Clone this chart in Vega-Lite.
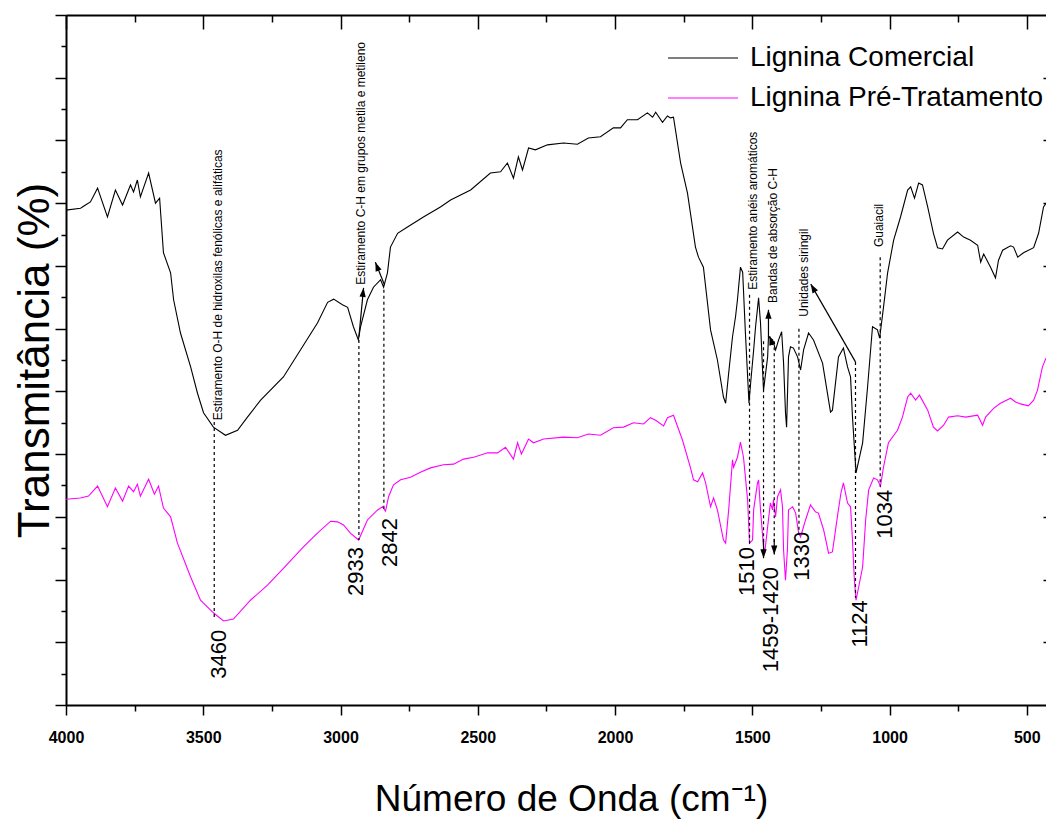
{
  "$schema": "https://vega.github.io/schema/vega-lite/v6.json",
  "width": 980,
  "height": 690,
  "autosize": {"type": "none"},
  "padding": {"left": 66, "top": 15, "right": 0, "bottom": 114},
  "background": "white",
  "config": {
    "view": {"stroke": null},
    "font": "Liberation Sans",
    "axis": {
      "grid": false,
      "domainColor": "black",
      "domainWidth": 2,
      "tickColor": "black",
      "tickWidth": 1.5,
      "labelColor": "black",
      "titleColor": "black"
    }
  },
  "datasets": {
    "espectros": [
      {"s": "Lignina Comercial", "wn": 4000, "t": 78.9},
      {"s": "Lignina Comercial", "wn": 3947, "t": 79.2},
      {"s": "Lignina Comercial", "wn": 3929, "t": 79.7},
      {"s": "Lignina Comercial", "wn": 3911, "t": 80.2},
      {"s": "Lignina Comercial", "wn": 3885, "t": 82.4},
      {"s": "Lignina Comercial", "wn": 3849, "t": 77.8},
      {"s": "Lignina Comercial", "wn": 3820, "t": 82.1},
      {"s": "Lignina Comercial", "wn": 3794, "t": 79.7},
      {"s": "Lignina Comercial", "wn": 3765, "t": 82.9},
      {"s": "Lignina Comercial", "wn": 3754, "t": 81.8},
      {"s": "Lignina Comercial", "wn": 3740, "t": 83.7},
      {"s": "Lignina Comercial", "wn": 3729, "t": 81.0},
      {"s": "Lignina Comercial", "wn": 3699, "t": 84.8},
      {"s": "Lignina Comercial", "wn": 3674, "t": 80.0},
      {"s": "Lignina Comercial", "wn": 3659, "t": 80.8},
      {"s": "Lignina Comercial", "wn": 3645, "t": 72.1},
      {"s": "Lignina Comercial", "wn": 3619, "t": 68.9},
      {"s": "Lignina Comercial", "wn": 3608, "t": 64.6},
      {"s": "Lignina Comercial", "wn": 3583, "t": 59.3},
      {"s": "Lignina Comercial", "wn": 3546, "t": 53.9},
      {"s": "Lignina Comercial", "wn": 3521, "t": 49.7},
      {"s": "Lignina Comercial", "wn": 3499, "t": 46.6},
      {"s": "Lignina Comercial", "wn": 3463, "t": 44.3},
      {"s": "Lignina Comercial", "wn": 3419, "t": 43.0},
      {"s": "Lignina Comercial", "wn": 3375, "t": 43.8},
      {"s": "Lignina Comercial", "wn": 3339, "t": 45.9},
      {"s": "Lignina Comercial", "wn": 3291, "t": 48.6},
      {"s": "Lignina Comercial", "wn": 3208, "t": 52.3},
      {"s": "Lignina Comercial", "wn": 3146, "t": 56.6},
      {"s": "Lignina Comercial", "wn": 3084, "t": 60.9},
      {"s": "Lignina Comercial", "wn": 3047, "t": 64.2},
      {"s": "Lignina Comercial", "wn": 3025, "t": 64.7},
      {"s": "Lignina Comercial", "wn": 2993, "t": 63.8},
      {"s": "Lignina Comercial", "wn": 2974, "t": 63.4},
      {"s": "Lignina Comercial", "wn": 2953, "t": 60.3},
      {"s": "Lignina Comercial", "wn": 2935, "t": 58.2},
      {"s": "Lignina Comercial", "wn": 2927, "t": 60.3},
      {"s": "Lignina Comercial", "wn": 2902, "t": 64.6},
      {"s": "Lignina Comercial", "wn": 2880, "t": 66.6},
      {"s": "Lignina Comercial", "wn": 2854, "t": 67.8},
      {"s": "Lignina Comercial", "wn": 2843, "t": 66.6},
      {"s": "Lignina Comercial", "wn": 2829, "t": 68.9},
      {"s": "Lignina Comercial", "wn": 2818, "t": 73.0},
      {"s": "Lignina Comercial", "wn": 2792, "t": 75.2},
      {"s": "Lignina Comercial", "wn": 2756, "t": 76.2},
      {"s": "Lignina Comercial", "wn": 2698, "t": 77.8},
      {"s": "Lignina Comercial", "wn": 2636, "t": 79.4},
      {"s": "Lignina Comercial", "wn": 2599, "t": 80.5},
      {"s": "Lignina Comercial", "wn": 2526, "t": 82.1},
      {"s": "Lignina Comercial", "wn": 2454, "t": 84.8},
      {"s": "Lignina Comercial", "wn": 2417, "t": 85.0},
      {"s": "Lignina Comercial", "wn": 2392, "t": 86.4},
      {"s": "Lignina Comercial", "wn": 2370, "t": 84.0},
      {"s": "Lignina Comercial", "wn": 2352, "t": 87.4},
      {"s": "Lignina Comercial", "wn": 2337, "t": 85.3},
      {"s": "Lignina Comercial", "wn": 2315, "t": 88.8},
      {"s": "Lignina Comercial", "wn": 2290, "t": 88.5},
      {"s": "Lignina Comercial", "wn": 2246, "t": 89.3},
      {"s": "Lignina Comercial", "wn": 2188, "t": 89.6},
      {"s": "Lignina Comercial", "wn": 2137, "t": 89.4},
      {"s": "Lignina Comercial", "wn": 2097, "t": 90.4},
      {"s": "Lignina Comercial", "wn": 2053, "t": 90.6},
      {"s": "Lignina Comercial", "wn": 2006, "t": 92.0},
      {"s": "Lignina Comercial", "wn": 1980, "t": 92.0},
      {"s": "Lignina Comercial", "wn": 1955, "t": 93.3},
      {"s": "Lignina Comercial", "wn": 1918, "t": 93.3},
      {"s": "Lignina Comercial", "wn": 1882, "t": 94.4},
      {"s": "Lignina Comercial", "wn": 1863, "t": 93.7},
      {"s": "Lignina Comercial", "wn": 1852, "t": 94.5},
      {"s": "Lignina Comercial", "wn": 1827, "t": 92.9},
      {"s": "Lignina Comercial", "wn": 1809, "t": 93.9},
      {"s": "Lignina Comercial", "wn": 1798, "t": 93.6},
      {"s": "Lignina Comercial", "wn": 1787, "t": 93.7},
      {"s": "Lignina Comercial", "wn": 1761, "t": 86.4},
      {"s": "Lignina Comercial", "wn": 1736, "t": 81.6},
      {"s": "Lignina Comercial", "wn": 1707, "t": 73.0},
      {"s": "Lignina Comercial", "wn": 1696, "t": 71.4},
      {"s": "Lignina Comercial", "wn": 1678, "t": 69.8},
      {"s": "Lignina Comercial", "wn": 1652, "t": 59.8},
      {"s": "Lignina Comercial", "wn": 1627, "t": 55.0},
      {"s": "Lignina Comercial", "wn": 1605, "t": 49.1},
      {"s": "Lignina Comercial", "wn": 1597, "t": 48.1},
      {"s": "Lignina Comercial", "wn": 1586, "t": 52.9},
      {"s": "Lignina Comercial", "wn": 1572, "t": 58.7},
      {"s": "Lignina Comercial", "wn": 1561, "t": 61.9},
      {"s": "Lignina Comercial", "wn": 1554, "t": 64.6},
      {"s": "Lignina Comercial", "wn": 1543, "t": 69.8},
      {"s": "Lignina Comercial", "wn": 1535, "t": 69.0},
      {"s": "Lignina Comercial", "wn": 1525, "t": 59.3},
      {"s": "Lignina Comercial", "wn": 1512, "t": 48.1},
      {"s": "Lignina Comercial", "wn": 1506, "t": 51.3},
      {"s": "Lignina Comercial", "wn": 1495, "t": 56.6},
      {"s": "Lignina Comercial", "wn": 1488, "t": 60.3},
      {"s": "Lignina Comercial", "wn": 1477, "t": 64.9},
      {"s": "Lignina Comercial", "wn": 1470, "t": 60.9},
      {"s": "Lignina Comercial", "wn": 1463, "t": 53.9},
      {"s": "Lignina Comercial", "wn": 1459, "t": 50.2},
      {"s": "Lignina Comercial", "wn": 1444, "t": 55.5},
      {"s": "Lignina Comercial", "wn": 1441, "t": 58.7},
      {"s": "Lignina Comercial", "wn": 1426, "t": 58.2},
      {"s": "Lignina Comercial", "wn": 1415, "t": 56.6},
      {"s": "Lignina Comercial", "wn": 1404, "t": 58.2},
      {"s": "Lignina Comercial", "wn": 1393, "t": 59.5},
      {"s": "Lignina Comercial", "wn": 1386, "t": 54.5},
      {"s": "Lignina Comercial", "wn": 1379, "t": 46.6},
      {"s": "Lignina Comercial", "wn": 1375, "t": 44.3},
      {"s": "Lignina Comercial", "wn": 1368, "t": 55.5},
      {"s": "Lignina Comercial", "wn": 1361, "t": 57.1},
      {"s": "Lignina Comercial", "wn": 1350, "t": 56.9},
      {"s": "Lignina Comercial", "wn": 1335, "t": 55.5},
      {"s": "Lignina Comercial", "wn": 1324, "t": 53.4},
      {"s": "Lignina Comercial", "wn": 1313, "t": 56.6},
      {"s": "Lignina Comercial", "wn": 1295, "t": 59.3},
      {"s": "Lignina Comercial", "wn": 1277, "t": 58.2},
      {"s": "Lignina Comercial", "wn": 1244, "t": 54.5},
      {"s": "Lignina Comercial", "wn": 1215, "t": 46.7},
      {"s": "Lignina Comercial", "wn": 1208, "t": 47.0},
      {"s": "Lignina Comercial", "wn": 1186, "t": 55.5},
      {"s": "Lignina Comercial", "wn": 1168, "t": 56.9},
      {"s": "Lignina Comercial", "wn": 1153, "t": 53.9},
      {"s": "Lignina Comercial", "wn": 1142, "t": 52.3},
      {"s": "Lignina Comercial", "wn": 1135, "t": 45.9},
      {"s": "Lignina Comercial", "wn": 1122, "t": 37.0},
      {"s": "Lignina Comercial", "wn": 1098, "t": 41.8},
      {"s": "Lignina Comercial", "wn": 1080, "t": 50.7},
      {"s": "Lignina Comercial", "wn": 1062, "t": 60.3},
      {"s": "Lignina Comercial", "wn": 1044, "t": 59.8},
      {"s": "Lignina Comercial", "wn": 1036, "t": 58.5},
      {"s": "Lignina Comercial", "wn": 1022, "t": 63.4},
      {"s": "Lignina Comercial", "wn": 1007, "t": 68.9},
      {"s": "Lignina Comercial", "wn": 985, "t": 74.1},
      {"s": "Lignina Comercial", "wn": 960, "t": 77.8},
      {"s": "Lignina Comercial", "wn": 934, "t": 82.1},
      {"s": "Lignina Comercial", "wn": 923, "t": 82.6},
      {"s": "Lignina Comercial", "wn": 909, "t": 80.8},
      {"s": "Lignina Comercial", "wn": 894, "t": 83.2},
      {"s": "Lignina Comercial", "wn": 880, "t": 82.9},
      {"s": "Lignina Comercial", "wn": 861, "t": 79.4},
      {"s": "Lignina Comercial", "wn": 840, "t": 75.2},
      {"s": "Lignina Comercial", "wn": 825, "t": 72.9},
      {"s": "Lignina Comercial", "wn": 807, "t": 72.7},
      {"s": "Lignina Comercial", "wn": 789, "t": 74.1},
      {"s": "Lignina Comercial", "wn": 752, "t": 75.4},
      {"s": "Lignina Comercial", "wn": 730, "t": 74.6},
      {"s": "Lignina Comercial", "wn": 705, "t": 74.1},
      {"s": "Lignina Comercial", "wn": 679, "t": 73.3},
      {"s": "Lignina Comercial", "wn": 668, "t": 70.6},
      {"s": "Lignina Comercial", "wn": 657, "t": 71.9},
      {"s": "Lignina Comercial", "wn": 632, "t": 69.8},
      {"s": "Lignina Comercial", "wn": 614, "t": 68.1},
      {"s": "Lignina Comercial", "wn": 603, "t": 70.9},
      {"s": "Lignina Comercial", "wn": 588, "t": 72.5},
      {"s": "Lignina Comercial", "wn": 559, "t": 73.2},
      {"s": "Lignina Comercial", "wn": 548, "t": 73.0},
      {"s": "Lignina Comercial", "wn": 533, "t": 71.4},
      {"s": "Lignina Comercial", "wn": 512, "t": 72.1},
      {"s": "Lignina Comercial", "wn": 475, "t": 72.9},
      {"s": "Lignina Comercial", "wn": 457, "t": 75.2},
      {"s": "Lignina Comercial", "wn": 439, "t": 79.4},
      {"s": "Lignina Comercial", "wn": 430, "t": 80.0},
      {"s": "Lignina Pré-Tratamento", "wn": 4000, "t": 32.8},
      {"s": "Lignina Pré-Tratamento", "wn": 3947, "t": 33.0},
      {"s": "Lignina Pré-Tratamento", "wn": 3918, "t": 33.3},
      {"s": "Lignina Pré-Tratamento", "wn": 3885, "t": 34.9},
      {"s": "Lignina Pré-Tratamento", "wn": 3849, "t": 31.6},
      {"s": "Lignina Pré-Tratamento", "wn": 3820, "t": 34.6},
      {"s": "Lignina Pré-Tratamento", "wn": 3794, "t": 32.5},
      {"s": "Lignina Pré-Tratamento", "wn": 3772, "t": 34.9},
      {"s": "Lignina Pré-Tratamento", "wn": 3754, "t": 34.0},
      {"s": "Lignina Pré-Tratamento", "wn": 3740, "t": 35.2},
      {"s": "Lignina Pré-Tratamento", "wn": 3729, "t": 33.3},
      {"s": "Lignina Pré-Tratamento", "wn": 3699, "t": 36.0},
      {"s": "Lignina Pré-Tratamento", "wn": 3678, "t": 33.6},
      {"s": "Lignina Pré-Tratamento", "wn": 3663, "t": 34.9},
      {"s": "Lignina Pré-Tratamento", "wn": 3645, "t": 31.4},
      {"s": "Lignina Pré-Tratamento", "wn": 3619, "t": 30.0},
      {"s": "Lignina Pré-Tratamento", "wn": 3594, "t": 25.8},
      {"s": "Lignina Pré-Tratamento", "wn": 3546, "t": 20.4},
      {"s": "Lignina Pré-Tratamento", "wn": 3510, "t": 16.7},
      {"s": "Lignina Pré-Tratamento", "wn": 3463, "t": 14.7},
      {"s": "Lignina Pré-Tratamento", "wn": 3426, "t": 13.4},
      {"s": "Lignina Pré-Tratamento", "wn": 3390, "t": 13.7},
      {"s": "Lignina Pré-Tratamento", "wn": 3328, "t": 16.7},
      {"s": "Lignina Pré-Tratamento", "wn": 3266, "t": 19.1},
      {"s": "Lignina Pré-Tratamento", "wn": 3208, "t": 21.8},
      {"s": "Lignina Pré-Tratamento", "wn": 3135, "t": 25.2},
      {"s": "Lignina Pré-Tratamento", "wn": 3084, "t": 27.4},
      {"s": "Lignina Pré-Tratamento", "wn": 3036, "t": 29.3},
      {"s": "Lignina Pré-Tratamento", "wn": 3011, "t": 29.2},
      {"s": "Lignina Pré-Tratamento", "wn": 2989, "t": 28.7},
      {"s": "Lignina Pré-Tratamento", "wn": 2964, "t": 27.4},
      {"s": "Lignina Pré-Tratamento", "wn": 2934, "t": 26.3},
      {"s": "Lignina Pré-Tratamento", "wn": 2902, "t": 29.5},
      {"s": "Lignina Pré-Tratamento", "wn": 2865, "t": 31.1},
      {"s": "Lignina Pré-Tratamento", "wn": 2847, "t": 31.6},
      {"s": "Lignina Pré-Tratamento", "wn": 2836, "t": 30.9},
      {"s": "Lignina Pré-Tratamento", "wn": 2825, "t": 33.2},
      {"s": "Lignina Pré-Tratamento", "wn": 2807, "t": 35.1},
      {"s": "Lignina Pré-Tratamento", "wn": 2781, "t": 35.9},
      {"s": "Lignina Pré-Tratamento", "wn": 2745, "t": 36.3},
      {"s": "Lignina Pré-Tratamento", "wn": 2709, "t": 37.1},
      {"s": "Lignina Pré-Tratamento", "wn": 2672, "t": 37.8},
      {"s": "Lignina Pré-Tratamento", "wn": 2625, "t": 38.3},
      {"s": "Lignina Pré-Tratamento", "wn": 2588, "t": 38.4},
      {"s": "Lignina Pré-Tratamento", "wn": 2552, "t": 39.2},
      {"s": "Lignina Pré-Tratamento", "wn": 2515, "t": 39.5},
      {"s": "Lignina Pré-Tratamento", "wn": 2464, "t": 40.2},
      {"s": "Lignina Pré-Tratamento", "wn": 2428, "t": 40.2},
      {"s": "Lignina Pré-Tratamento", "wn": 2399, "t": 41.1},
      {"s": "Lignina Pré-Tratamento", "wn": 2370, "t": 39.2},
      {"s": "Lignina Pré-Tratamento", "wn": 2355, "t": 41.8},
      {"s": "Lignina Pré-Tratamento", "wn": 2341, "t": 40.0},
      {"s": "Lignina Pré-Tratamento", "wn": 2315, "t": 42.4},
      {"s": "Lignina Pré-Tratamento", "wn": 2297, "t": 41.8},
      {"s": "Lignina Pré-Tratamento", "wn": 2260, "t": 42.4},
      {"s": "Lignina Pré-Tratamento", "wn": 2188, "t": 42.7},
      {"s": "Lignina Pré-Tratamento", "wn": 2137, "t": 42.6},
      {"s": "Lignina Pré-Tratamento", "wn": 2097, "t": 43.2},
      {"s": "Lignina Pré-Tratamento", "wn": 2053, "t": 43.0},
      {"s": "Lignina Pré-Tratamento", "wn": 2006, "t": 44.2},
      {"s": "Lignina Pré-Tratamento", "wn": 1969, "t": 44.3},
      {"s": "Lignina Pré-Tratamento", "wn": 1933, "t": 45.0},
      {"s": "Lignina Pré-Tratamento", "wn": 1896, "t": 44.8},
      {"s": "Lignina Pré-Tratamento", "wn": 1871, "t": 45.8},
      {"s": "Lignina Pré-Tratamento", "wn": 1852, "t": 45.4},
      {"s": "Lignina Pré-Tratamento", "wn": 1823, "t": 44.5},
      {"s": "Lignina Pré-Tratamento", "wn": 1809, "t": 45.8},
      {"s": "Lignina Pré-Tratamento", "wn": 1787, "t": 46.2},
      {"s": "Lignina Pré-Tratamento", "wn": 1754, "t": 42.2},
      {"s": "Lignina Pré-Tratamento", "wn": 1725, "t": 37.8},
      {"s": "Lignina Pré-Tratamento", "wn": 1714, "t": 35.9},
      {"s": "Lignina Pré-Tratamento", "wn": 1699, "t": 35.6},
      {"s": "Lignina Pré-Tratamento", "wn": 1681, "t": 37.0},
      {"s": "Lignina Pré-Tratamento", "wn": 1670, "t": 35.4},
      {"s": "Lignina Pré-Tratamento", "wn": 1652, "t": 31.6},
      {"s": "Lignina Pré-Tratamento", "wn": 1641, "t": 33.0},
      {"s": "Lignina Pré-Tratamento", "wn": 1627, "t": 31.1},
      {"s": "Lignina Pré-Tratamento", "wn": 1605, "t": 26.3},
      {"s": "Lignina Pré-Tratamento", "wn": 1597, "t": 25.8},
      {"s": "Lignina Pré-Tratamento", "wn": 1586, "t": 31.1},
      {"s": "Lignina Pré-Tratamento", "wn": 1572, "t": 39.1},
      {"s": "Lignina Pré-Tratamento", "wn": 1568, "t": 37.9},
      {"s": "Lignina Pré-Tratamento", "wn": 1554, "t": 39.5},
      {"s": "Lignina Pré-Tratamento", "wn": 1543, "t": 41.9},
      {"s": "Lignina Pré-Tratamento", "wn": 1532, "t": 39.5},
      {"s": "Lignina Pré-Tratamento", "wn": 1517, "t": 32.7},
      {"s": "Lignina Pré-Tratamento", "wn": 1510, "t": 25.8},
      {"s": "Lignina Pré-Tratamento", "wn": 1499, "t": 26.3},
      {"s": "Lignina Pré-Tratamento", "wn": 1495, "t": 31.1},
      {"s": "Lignina Pré-Tratamento", "wn": 1481, "t": 35.4},
      {"s": "Lignina Pré-Tratamento", "wn": 1477, "t": 35.9},
      {"s": "Lignina Pré-Tratamento", "wn": 1470, "t": 31.1},
      {"s": "Lignina Pré-Tratamento", "wn": 1459, "t": 25.2},
      {"s": "Lignina Pré-Tratamento", "wn": 1455, "t": 24.2},
      {"s": "Lignina Pré-Tratamento", "wn": 1444, "t": 28.4},
      {"s": "Lignina Pré-Tratamento", "wn": 1434, "t": 32.2},
      {"s": "Lignina Pré-Tratamento", "wn": 1426, "t": 31.1},
      {"s": "Lignina Pré-Tratamento", "wn": 1423, "t": 32.7},
      {"s": "Lignina Pré-Tratamento", "wn": 1415, "t": 30.0},
      {"s": "Lignina Pré-Tratamento", "wn": 1408, "t": 33.2},
      {"s": "Lignina Pré-Tratamento", "wn": 1397, "t": 34.3},
      {"s": "Lignina Pré-Tratamento", "wn": 1390, "t": 31.6},
      {"s": "Lignina Pré-Tratamento", "wn": 1386, "t": 24.7},
      {"s": "Lignina Pré-Tratamento", "wn": 1379, "t": 19.9},
      {"s": "Lignina Pré-Tratamento", "wn": 1372, "t": 24.7},
      {"s": "Lignina Pré-Tratamento", "wn": 1368, "t": 31.1},
      {"s": "Lignina Pré-Tratamento", "wn": 1353, "t": 31.6},
      {"s": "Lignina Pré-Tratamento", "wn": 1342, "t": 30.6},
      {"s": "Lignina Pré-Tratamento", "wn": 1331, "t": 27.4},
      {"s": "Lignina Pré-Tratamento", "wn": 1324, "t": 26.8},
      {"s": "Lignina Pré-Tratamento", "wn": 1306, "t": 29.5},
      {"s": "Lignina Pré-Tratamento", "wn": 1288, "t": 31.9},
      {"s": "Lignina Pré-Tratamento", "wn": 1270, "t": 30.8},
      {"s": "Lignina Pré-Tratamento", "wn": 1259, "t": 30.6},
      {"s": "Lignina Pré-Tratamento", "wn": 1240, "t": 27.9},
      {"s": "Lignina Pré-Tratamento", "wn": 1222, "t": 24.2},
      {"s": "Lignina Pré-Tratamento", "wn": 1208, "t": 24.4},
      {"s": "Lignina Pré-Tratamento", "wn": 1188, "t": 30.6},
      {"s": "Lignina Pré-Tratamento", "wn": 1177, "t": 33.8},
      {"s": "Lignina Pré-Tratamento", "wn": 1168, "t": 35.4},
      {"s": "Lignina Pré-Tratamento", "wn": 1153, "t": 32.2},
      {"s": "Lignina Pré-Tratamento", "wn": 1142, "t": 31.6},
      {"s": "Lignina Pré-Tratamento", "wn": 1135, "t": 26.3},
      {"s": "Lignina Pré-Tratamento", "wn": 1128, "t": 19.9},
      {"s": "Lignina Pré-Tratamento", "wn": 1122, "t": 16.7},
      {"s": "Lignina Pré-Tratamento", "wn": 1098, "t": 22.0},
      {"s": "Lignina Pré-Tratamento", "wn": 1087, "t": 29.5},
      {"s": "Lignina Pré-Tratamento", "wn": 1076, "t": 34.3},
      {"s": "Lignina Pré-Tratamento", "wn": 1058, "t": 36.2},
      {"s": "Lignina Pré-Tratamento", "wn": 1044, "t": 35.9},
      {"s": "Lignina Pré-Tratamento", "wn": 1033, "t": 34.9},
      {"s": "Lignina Pré-Tratamento", "wn": 1022, "t": 37.9},
      {"s": "Lignina Pré-Tratamento", "wn": 1004, "t": 41.8},
      {"s": "Lignina Pré-Tratamento", "wn": 971, "t": 43.8},
      {"s": "Lignina Pré-Tratamento", "wn": 953, "t": 45.9},
      {"s": "Lignina Pré-Tratamento", "wn": 934, "t": 49.1},
      {"s": "Lignina Pré-Tratamento", "wn": 923, "t": 49.7},
      {"s": "Lignina Pré-Tratamento", "wn": 905, "t": 48.6},
      {"s": "Lignina Pré-Tratamento", "wn": 891, "t": 49.4},
      {"s": "Lignina Pré-Tratamento", "wn": 861, "t": 47.0},
      {"s": "Lignina Pré-Tratamento", "wn": 840, "t": 44.3},
      {"s": "Lignina Pré-Tratamento", "wn": 825, "t": 43.7},
      {"s": "Lignina Pré-Tratamento", "wn": 803, "t": 44.6},
      {"s": "Lignina Pré-Tratamento", "wn": 785, "t": 45.9},
      {"s": "Lignina Pré-Tratamento", "wn": 752, "t": 46.1},
      {"s": "Lignina Pré-Tratamento", "wn": 723, "t": 45.9},
      {"s": "Lignina Pré-Tratamento", "wn": 679, "t": 46.2},
      {"s": "Lignina Pré-Tratamento", "wn": 661, "t": 44.6},
      {"s": "Lignina Pré-Tratamento", "wn": 650, "t": 45.9},
      {"s": "Lignina Pré-Tratamento", "wn": 621, "t": 47.3},
      {"s": "Lignina Pré-Tratamento", "wn": 596, "t": 48.1},
      {"s": "Lignina Pré-Tratamento", "wn": 559, "t": 48.9},
      {"s": "Lignina Pré-Tratamento", "wn": 541, "t": 48.3},
      {"s": "Lignina Pré-Tratamento", "wn": 523, "t": 48.0},
      {"s": "Lignina Pré-Tratamento", "wn": 494, "t": 47.7},
      {"s": "Lignina Pré-Tratamento", "wn": 475, "t": 48.6},
      {"s": "Lignina Pré-Tratamento", "wn": 461, "t": 50.2},
      {"s": "Lignina Pré-Tratamento", "wn": 443, "t": 53.9},
      {"s": "Lignina Pré-Tratamento", "wn": 430, "t": 55.3}
    ],
    "marcadores": [
      {"wn": 3460, "topo": 45.1, "base": 14.0},
      {"wn": 2933, "topo": 58.2, "base": 26.3},
      {"wn": 2842, "topo": 66.2, "base": 31.1},
      {"wn": 1510, "topo": 65.4, "base": 25.5},
      {"wn": 1459, "topo": 58.0, "base": 25.5},
      {"wn": 1420, "topo": 58.0, "base": 26.0},
      {"wn": 1330, "topo": 60.0, "base": 27.1},
      {"wn": 1124, "topo": 54.7, "base": 17.1},
      {"wn": 1034, "topo": 71.4, "base": 34.8}
    ],
    "setas": [
      {"wn": 2933, "t": 58.7, "wn2": 2916, "t2": 66.5, "dir": 6},
      {"wn": 2840, "t": 67.0, "wn2": 2873, "t2": 70.6, "dir": 339},
      {"wn": 1124, "t": 54.7, "wn2": 1287, "t2": 67.1, "dir": 330},
      {"wn": 1441, "t": 58.7, "wn2": 1441, "t2": 63.0, "dir": 0},
      {"wn": 1426, "t": 57.4, "wn2": 1437, "t2": 58.8, "dir": 342},
      {"wn": 1459, "t": 26.5, "wn2": 1459, "t2": 23.4, "dir": 180},
      {"wn": 1420, "t": 26.5, "wn2": 1420, "t2": 24.0, "dir": 180}
    ],
    "numeros": [
      {"wn": 3441, "t": 12.0, "texto": "3460"},
      {"wn": 2942, "t": 25.2, "texto": "2933"},
      {"wn": 2818, "t": 29.8, "texto": "2842"},
      {"wn": 1521, "t": 25.2, "texto": "1510"},
      {"wn": 1430, "t": 22.0, "texto": "1459-1420"},
      {"wn": 1320, "t": 27.6, "texto": "1330"},
      {"wn": 1106, "t": 16.7, "texto": "1124"},
      {"wn": 1015, "t": 34.3, "texto": "1034"}
    ],
    "notas": [
      {"wn": 3448, "t": 45.4, "texto": "Estiramento O-H de hidroxilas fenólicas e alifáticas"},
      {"wn": 2927, "t": 67.0, "texto": "Estiramento C-H em grupos metila e metileno"},
      {"wn": 1499, "t": 66.2, "texto": "Estiramento anéis aromáticos"},
      {"wn": 1426, "t": 64.1, "texto": "Bandas de absorção C-H"},
      {"wn": 1313, "t": 61.9, "texto": "Unidades siringil"},
      {"wn": 1040, "t": 73.0, "texto": "Guaiacil"}
    ]
  },
  "resolve": {"axis": {"x": "independent", "y": "independent"}},
  "layer": [
    {
      "data": {"name": "espectros"},
      "mark": {"type": "line", "strokeWidth": 1.1},
      "encoding": {
        "x": {
          "field": "wn",
          "type": "quantitative",
          "scale": {"domain": [4000, 430], "nice": false, "zero": false},
          "axis": {
            "orient": "bottom",
            "values": [4000, 3750, 3500, 3250, 3000, 2750, 2500, 2250, 2000, 1750, 1500, 1250, 1000, 750, 500],
            "format": "d",
            "labelExpr": "datum.value % 500 === 0 ? datum.label : ''",
            "tickSize": {"condition": {"test": "datum.value % 500 === 0", "value": 10}, "value": 6},
            "labelFontSize": 16,
            "labelFontWeight": "bold",
            "labelPadding": 14,
            "labelFlush": false,
            "labelOverlap": false,
            "title": "Número de Onda (cm⁻¹)",
            "titleFontSize": 37,
            "titleFontWeight": "normal",
            "titleX": 505,
            "titleY": 105,
            "titleAlign": "center",
            "titleBaseline": "alphabetic"
          }
        },
        "y": {
          "field": "t",
          "type": "quantitative",
          "scale": {"domain": [0, 110], "nice": false, "zero": false},
          "axis": {
            "orient": "left",
            "values": [0, 5, 10, 15, 20, 25, 30, 35, 40, 45, 50, 55, 60, 65, 70, 75, 80, 85, 90, 95, 100, 105, 110],
            "labels": false,
            "tickSize": {"condition": {"test": "datum.value % 10 === 0", "value": 11}, "value": 5},
            "title": "Transmitância (%)",
            "titleFontSize": 44,
            "titleFontWeight": "normal",
            "titleAngle": 270,
            "titleX": -18,
            "titleY": 345,
            "titleAlign": "center",
            "titleBaseline": "alphabetic"
          }
        },
        "color": {
          "field": "s",
          "type": "nominal",
          "scale": {"domain": ["Lignina Comercial", "Lignina Pré-Tratamento"], "range": ["#000000", "#ff00ff"]},
          "legend": {
            "orient": "none",
            "legendX": 622,
            "legendY": 28,
            "title": null,
            "padding": 0,
            "symbolType": "M-2.5,0H2.5",
            "symbolSize": 784,
            "symbolStrokeWidth": 1.1,
            "labelFontSize": 28,
            "labelFont": "Liberation Sans",
            "labelColor": "black",
            "labelOffset": 32,
            "labelLimit": 500,
            "rowPadding": 11
          }
        }
      }
    },
    {
      "data": {"name": "marcadores"},
      "mark": {"type": "rule", "strokeDash": [3, 3], "strokeWidth": 1.2, "color": "black"},
      "encoding": {
        "x": {
          "field": "wn",
          "type": "quantitative",
          "axis": {
            "orient": "top",
            "values": [4000, 3750, 3500, 3250, 3000, 2750, 2500, 2250, 2000, 1750, 1500, 1250, 1000, 750, 500],
            "labels": false,
            "title": null,
            "tickSize": {"condition": {"test": "datum.value % 500 === 0", "value": -14}, "value": -7}
          }
        },
        "y": {
          "field": "topo",
          "type": "quantitative",
          "axis": {
            "orient": "right",
            "values": [10, 20, 30, 40, 50, 60, 70, 80, 90, 100],
            "labels": false,
            "title": null,
            "domain": false,
            "tickSize": -3
          }
        },
        "y2": {"field": "base"}
      }
    },
    {
      "data": {"name": "setas"},
      "mark": {"type": "rule", "strokeWidth": 1.2, "color": "black"},
      "encoding": {
        "x": {"field": "wn", "type": "quantitative", "axis": null},
        "y": {"field": "t", "type": "quantitative", "axis": null},
        "x2": {"field": "wn2"},
        "y2": {"field": "t2"}
      }
    },
    {
      "data": {"name": "setas"},
      "mark": {"type": "point", "shape": "M0,0L-0.35,1L0.35,1Z", "filled": true, "color": "black", "opacity": 1, "size": 324},
      "encoding": {
        "x": {"field": "wn2", "type": "quantitative", "axis": null},
        "y": {"field": "t2", "type": "quantitative", "axis": null},
        "angle": {"field": "dir", "type": "quantitative", "scale": null}
      }
    },
    {
      "data": {"name": "numeros"},
      "mark": {"type": "text", "angle": 270, "align": "right", "baseline": "middle", "fontSize": 22, "font": "Liberation Sans", "color": "black"},
      "encoding": {
        "x": {"field": "wn", "type": "quantitative", "axis": null},
        "y": {"field": "t", "type": "quantitative", "axis": null},
        "text": {"field": "texto"}
      }
    },
    {
      "data": {"name": "notas"},
      "mark": {"type": "text", "angle": 270, "align": "left", "baseline": "middle", "fontSize": 12, "font": "Liberation Sans", "color": "black"},
      "encoding": {
        "x": {"field": "wn", "type": "quantitative", "axis": null},
        "y": {"field": "t", "type": "quantitative", "axis": null},
        "text": {"field": "texto"}
      }
    }
  ]
}
